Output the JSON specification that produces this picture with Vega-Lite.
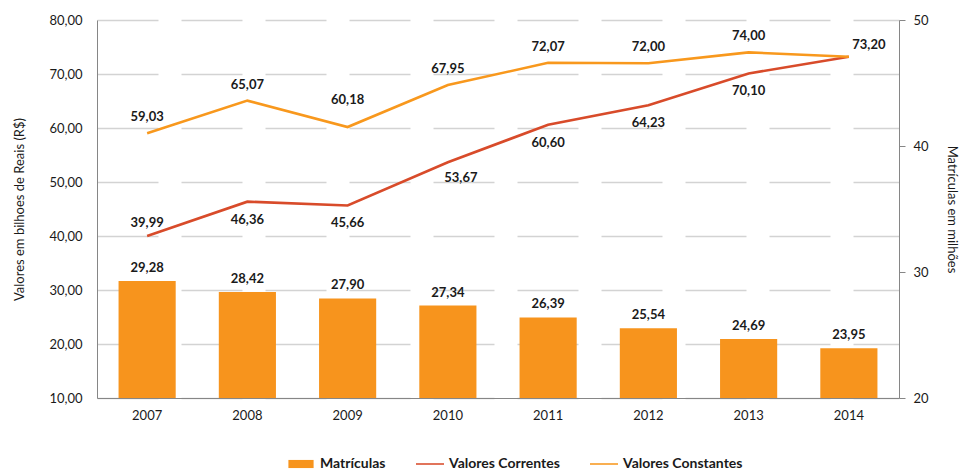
{
  "$schema": "https://vega.github.io/schema/vega-lite/v6.json",
  "width": 802,
  "height": 378,
  "autosize": {"type": "none"},
  "padding": {"left": 97, "top": 20, "right": 64, "bottom": 74},
  "background": "white",
  "config": {
    "font": "Lato",
    "locale": {"number": {"decimal": ",", "thousands": ".", "grouping": [3], "currency": ["R$", ""]}},
    "view": {"stroke": null},
    "axis": {
      "labelFont": "Lato", "labelFontSize": 13, "labelColor": "#1a1a1a",
      "titleFont": "Lato", "titleFontSize": 13, "titleFontWeight": "normal", "titleColor": "#1a1a1a",
      "domainColor": "#868686", "tickColor": "#868686", "domainWidth": 1
    },
    "text": {"font": "Lato", "fontSize": 13, "fontWeight": "bold", "color": "#1a1a1a"}
  },
  "data": {
    "values": [
      {"ano": "2007", "serie": "Matrículas", "valor": 29.28},
      {"ano": "2008", "serie": "Matrículas", "valor": 28.42},
      {"ano": "2009", "serie": "Matrículas", "valor": 27.90},
      {"ano": "2010", "serie": "Matrículas", "valor": 27.34},
      {"ano": "2011", "serie": "Matrículas", "valor": 26.39},
      {"ano": "2012", "serie": "Matrículas", "valor": 25.54},
      {"ano": "2013", "serie": "Matrículas", "valor": 24.69},
      {"ano": "2014", "serie": "Matrículas", "valor": 23.95},
      {"ano": "2007", "serie": "Valores Correntes", "valor": 39.99},
      {"ano": "2008", "serie": "Valores Correntes", "valor": 46.36},
      {"ano": "2009", "serie": "Valores Correntes", "valor": 45.66},
      {"ano": "2010", "serie": "Valores Correntes", "valor": 53.67},
      {"ano": "2011", "serie": "Valores Correntes", "valor": 60.60},
      {"ano": "2012", "serie": "Valores Correntes", "valor": 64.23},
      {"ano": "2013", "serie": "Valores Correntes", "valor": 70.10},
      {"ano": "2014", "serie": "Valores Correntes", "valor": 73.20},
      {"ano": "2007", "serie": "Valores Constantes", "valor": 59.03},
      {"ano": "2008", "serie": "Valores Constantes", "valor": 65.07},
      {"ano": "2009", "serie": "Valores Constantes", "valor": 60.18},
      {"ano": "2010", "serie": "Valores Constantes", "valor": 67.95},
      {"ano": "2011", "serie": "Valores Constantes", "valor": 72.07},
      {"ano": "2012", "serie": "Valores Constantes", "valor": 72.00},
      {"ano": "2013", "serie": "Valores Constantes", "valor": 74.00},
      {"ano": "2014", "serie": "Valores Constantes", "valor": 73.20}
    ]
  },
  "encoding": {
    "x": {
      "field": "ano", "type": "ordinal",
      "scale": {"paddingInner": 0.43, "paddingOuter": 0.215},
      "axis": {"title": null, "labelAngle": 0, "ticks": false, "labelPadding": 11, "grid": false, "domainColor": "#868686"}
    }
  },
  "layer": [
    {
      "transform": [{"filter": "datum.serie === 'Matrículas'"}],
      "encoding": {
        "y": {
          "field": "valor", "type": "quantitative",
          "scale": {"domain": [20, 50], "zero": false, "nice": false},
          "axis": {
            "orient": "right", "title": "Matrículas em milhões", "values": [20, 30, 40, 50], "format": "d",
            "grid": false, "ticks": true, "tickSize": 6, "labelPadding": 8, "titlePadding": 16, "titleAngle": 90
          }
        }
      },
      "layer": [
        {
          "mark": {"type": "bar"},
          "encoding": {
            "y2": {"datum": 20},
            "color": {
              "field": "serie", "type": "nominal",
              "scale": {"domain": ["Matrículas", "Valores Correntes", "Valores Constantes"], "range": ["#F7941D", "#D84B2A", "#F8981D"]},
              "legend": {
                "title": null, "orient": "none", "legendX": 190, "legendY": 430, "direction": "horizontal",
                "symbolSize": 784, "labelFont": "Lato", "labelFontWeight": "bold", "labelFontSize": 14,
                "labelColor": "#1a1a1a", "columnPadding": 30, "labelOffset": 5, "padding": 0,
                "encode": {
                  "symbols": {
                    "update": {
                      "shape": {"signal": "datum.value === 'Matrículas' ? 'M-0.9,-0.29H0.9V0.29H-0.9Z' : 'M-1,-0.055H1V0.055H-1Z'"},
                      "fill": {"signal": "scale('color', datum.value)"},
                      "stroke": {"value": "transparent"},
                      "strokeWidth": {"value": 0},
                      "opacity": {"value": 1},
                      "fillOpacity": {"value": 1}
                    }
                  }
                }
              }
            }
          }
        },
        {
          "mark": {"type": "text", "dy": -13, "baseline": "middle"},
          "encoding": {"text": {"field": "valor", "type": "quantitative", "format": ".2f"}}
        }
      ]
    },
    {
      "transform": [{"filter": "datum.serie !== 'Matrículas'"}],
      "encoding": {
        "y": {
          "field": "valor", "type": "quantitative",
          "scale": {"domain": [10, 80], "zero": false, "nice": false},
          "axis": {
            "orient": "left", "title": "Valores em bilhoes de Reais (R$)", "values": [10, 20, 30, 40, 50, 60, 70, 80], "format": ".2f",
            "grid": true, "gridDash": [61, 23], "gridColor": "#D3D3D3", "gridWidth": 1.3,
            "ticks": false, "labelPadding": 15, "titlePadding": 22
          }
        }
      },
      "layer": [
        {
          "mark": {"type": "line", "strokeWidth": 2.6},
          "encoding": {"color": {"field": "serie", "type": "nominal"}}
        },
        {
          "transform": [{"filter": "datum.serie === 'Valores Constantes' && datum.ano !== '2009' && datum.ano !== '2014'"}],
          "mark": {"type": "text", "dy": -16, "baseline": "middle"},
          "encoding": {"text": {"field": "valor", "type": "quantitative", "format": ".2f"}}
        },
        {
          "transform": [{"filter": "datum.serie === 'Valores Constantes' && datum.ano === '2009'"}],
          "mark": {"type": "text", "dy": -27, "baseline": "middle"},
          "encoding": {"text": {"field": "valor", "type": "quantitative", "format": ".2f"}}
        },
        {
          "transform": [{"filter": "datum.serie === 'Valores Constantes' && datum.ano === '2014'"}],
          "mark": {"type": "text", "dy": -12, "dx": 20, "baseline": "middle"},
          "encoding": {"text": {"field": "valor", "type": "quantitative", "format": ".2f"}}
        },
        {
          "transform": [{"filter": "datum.serie === 'Valores Correntes' && datum.ano === '2007'"}],
          "mark": {"type": "text", "dy": -13, "baseline": "middle"},
          "encoding": {"text": {"field": "valor", "type": "quantitative", "format": ".2f"}}
        },
        {
          "transform": [{"filter": "datum.serie === 'Valores Correntes' && datum.ano !== '2007' && datum.ano !== '2010' && datum.ano !== '2014'"}],
          "mark": {"type": "text", "dy": 18, "baseline": "middle"},
          "encoding": {"text": {"field": "valor", "type": "quantitative", "format": ".2f"}}
        },
        {
          "transform": [{"filter": "datum.serie === 'Valores Correntes' && datum.ano === '2010'"}],
          "mark": {"type": "text", "dy": 16, "dx": 13, "baseline": "middle"},
          "encoding": {"text": {"field": "valor", "type": "quantitative", "format": ".2f"}}
        },
        {
          "data": {"values": [{}]},
          "mark": {"type": "text", "text": "Variação entre 2007-2014", "align": "left", "baseline": "middle", "dx": -61, "fontWeight": "bold", "color": "#262626"},
          "encoding": {"x": {"datum": "2013"}, "y": {"datum": 55.2}}
        },
        {
          "data": {"values": [{}]},
          "mark": {"type": "text", "text": ["Valores correntes: +83,0%", "Valores constantes: +24,0%", "Matrículas: -18,2%"], "align": "left", "baseline": "middle", "dx": -61, "lineHeight": 18.3, "fontWeight": "normal", "color": "#404040"},
          "encoding": {"x": {"datum": "2013"}, "y": {"datum": 48.3}}
        }
      ]
    }
  ],
  "resolve": {"scale": {"y": "independent"}}
}
